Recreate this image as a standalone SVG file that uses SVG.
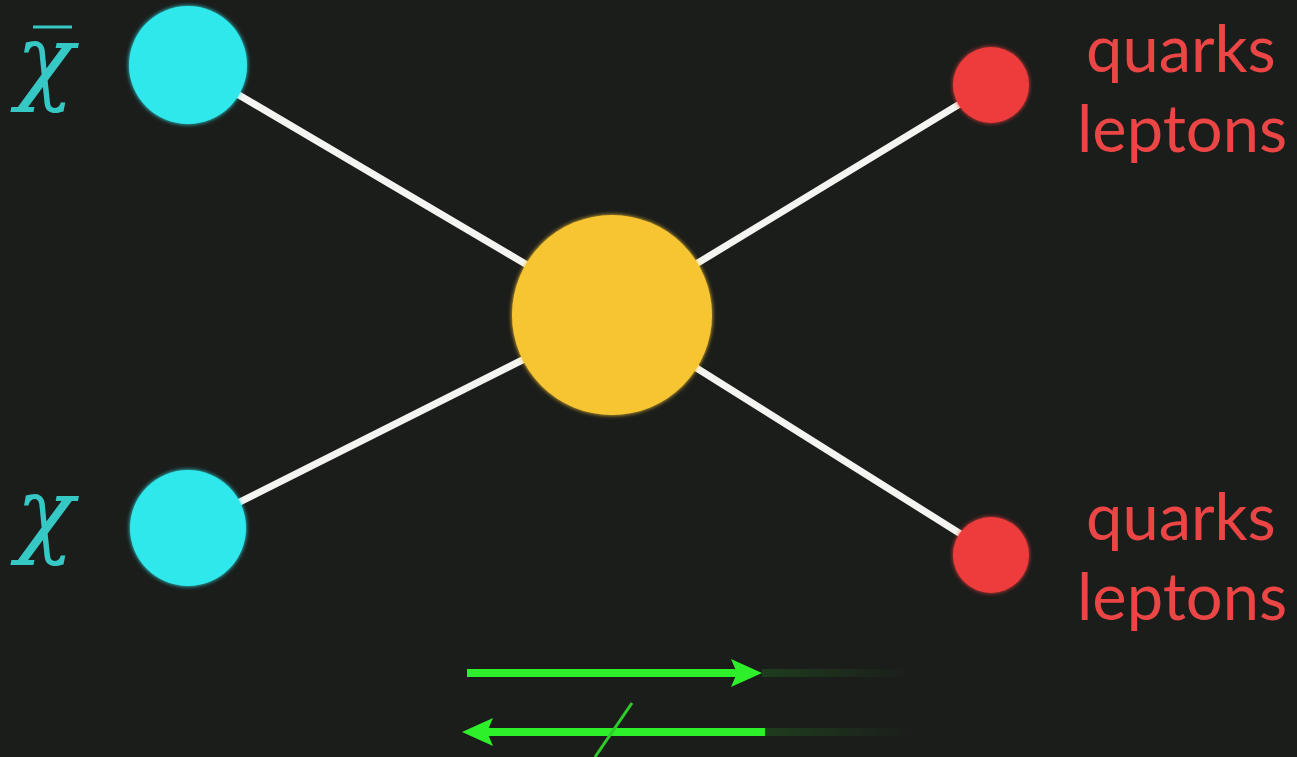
<svg xmlns="http://www.w3.org/2000/svg" width="1297" height="757" viewBox="0 0 1297 757">
<style>
.bg{fill:#1b1d1b}
.line{stroke:#f4f4f0;stroke-width:7;stroke-linecap:round}
.cyan{fill:#2fe8ec}
.red{fill:#ee3b3b}
.yel{fill:#f7c531}
.chi{font-family:"DejaVu Serif",serif;font-style:italic;font-weight:300;font-size:96px;fill:#35c8c4}
.lab{font-family:"Lato","Liberation Sans",sans-serif;font-size:65px;fill:#ec4545}
.arr{stroke:#2ef02a;stroke-width:8;fill:none}
</style>
<defs>
<filter id="glow" x="-30%" y="-30%" width="160%" height="160%">
<feGaussianBlur stdDeviation="2"/>
<feMerge><feMergeNode/><feMergeNode in="SourceGraphic"/></feMerge>
</filter>
<linearGradient id="fadeR" x1="0" x2="1" y1="0" y2="0">
<stop offset="0" stop-color="#2ef02a" stop-opacity="0.15"/>
<stop offset="1" stop-color="#2ef02a" stop-opacity="0"/>
</linearGradient>
</defs>
<rect class="bg" x="0" y="0" width="1297" height="757"/>
<g id="connectors">
<line class="line" x1="188" y1="65" x2="612" y2="315"/>
<line class="line" x1="188" y1="528" x2="612" y2="315"/>
<line class="line" x1="612" y1="315" x2="991" y2="85"/>
<line class="line" x1="612" y1="315" x2="991" y2="553"/>
</g>
<g id="chibar">
<circle class="cyan" cx="188" cy="65" r="59" filter="url(#glow)"/>
<text class="chi" x="16" y="92">χ</text>
<line x1="33" y1="27" x2="72" y2="27" stroke="#35c8c4" stroke-width="3"/>
</g>
<g id="chi">
<circle class="cyan" cx="188" cy="528" r="58" filter="url(#glow)"/>
<text class="chi" x="16" y="545">χ</text>
</g>
<g id="vertex">
<circle class="yel" cx="612" cy="315" r="100" filter="url(#glow)"/>
</g>
<g id="out1">
<circle class="red" cx="991" cy="85" r="38" filter="url(#glow)"/>
<text class="lab" x="1086" y="72">quarks</text>
<text class="lab" x="1077" y="152">leptons</text>
</g>
<g id="out2">
<circle class="red" cx="991" cy="555" r="38" filter="url(#glow)"/>
<text class="lab" x="1086" y="540">quarks</text>
<text class="lab" x="1077" y="620">leptons</text>
</g>
<g id="arrows">
<rect x="762" y="669" width="150" height="8" fill="url(#fadeR)"/>
<rect x="765" y="728" width="150" height="8" fill="url(#fadeR)"/>
<line class="arr" x1="467" y1="673" x2="750" y2="673"/>
<polygon points="762,673 731,659 737,673 731,687" fill="#2ef02a"/>
<line class="arr" x1="475" y1="732" x2="765" y2="732"/>
<polygon points="462,732 493,718 487,732 493,746" fill="#2ef02a"/>
<line x1="595" y1="757" x2="632" y2="703" stroke="#2ecc2a" stroke-width="3"/>
</g>
</svg>
